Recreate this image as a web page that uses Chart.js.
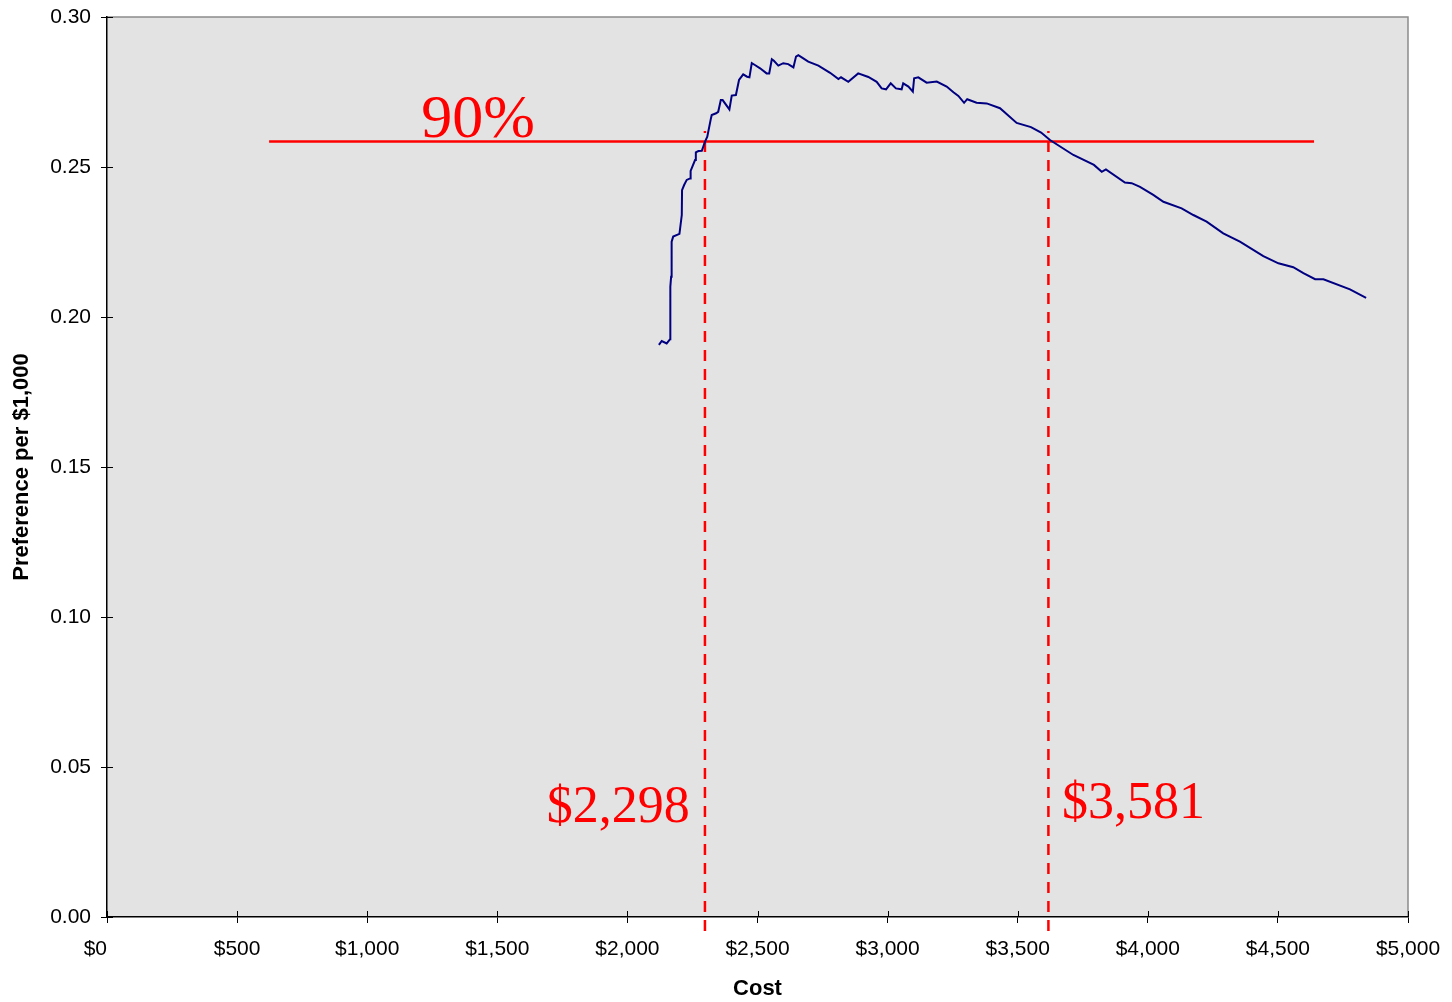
<!DOCTYPE html>
<html>
<head>
<meta charset="utf-8">
<script src="https://cdn.jsdelivr.net/npm/chart.js@4/dist/chart.umd.min.js"></script>
<style>
  body { margin: 0; background: #fff; }
  canvas { display: block; }
</style>
</head>
<body>
<canvas id="prefChart" width="1452" height="1002"></canvas>
<script>
// Cost ($) and preference per $1,000
const costValues = [
  2121, 2132, 2151, 2164, 2165, 2168, 2170, 2176, 2200, 2209, 2210, 2218, 2228, 2241, 2243,
  2260, 2263, 2273, 2286, 2298, 2307, 2321, 2324, 2341, 2349, 2359, 2366, 2392, 2401, 2417,
  2429, 2445, 2460, 2469, 2478, 2490, 2510, 2535, 2545, 2555, 2563, 2580, 2599, 2618, 2638,
  2648, 2657, 2676, 2695, 2734, 2779, 2811, 2821, 2849, 2887, 2926, 2958, 2977, 2994, 3012,
  3032, 3054, 3060, 3080, 3097, 3102, 3118, 3150, 3189, 3227, 3253, 3272, 3294, 3306, 3342,
  3381, 3432, 3496, 3551, 3590, 3624, 3714, 3793, 3823, 3839, 3912, 3938, 3970, 4021, 4060,
  4130, 4175, 4226, 4290, 4354, 4444, 4502, 4559, 4598, 4643, 4675, 4777, 4839
];
const prefValues = [
  0.1907, 0.1920, 0.1912, 0.1926, 0.2101, 0.2134, 0.2251, 0.2268, 0.2277, 0.2340, 0.2423, 0.2440, 0.2457, 0.2462, 0.2487,
  0.2523, 0.2549, 0.2553, 0.2554, 0.2584, 0.2601, 0.2662, 0.2673, 0.2679, 0.2684, 0.2723, 0.2723, 0.2692, 0.2738, 0.2740,
  0.2790, 0.2809, 0.2801, 0.2799, 0.2846, 0.2840, 0.2829, 0.2812, 0.2812, 0.2859, 0.2854, 0.2838, 0.2846, 0.2843, 0.2832,
  0.2868, 0.2873, 0.2862, 0.2851, 0.2838, 0.2814, 0.2793, 0.2799, 0.2784, 0.2812, 0.2800, 0.2784, 0.2762, 0.2759, 0.2779,
  0.2762, 0.2759, 0.2779, 0.2768, 0.2751, 0.2796, 0.2799, 0.2781, 0.2785, 0.2768, 0.2749, 0.2737, 0.2714, 0.2726, 0.2714,
  0.2712, 0.2696, 0.2647, 0.2633, 0.2615, 0.2590, 0.2540, 0.2507, 0.2484, 0.2492, 0.2448, 0.2446, 0.2434, 0.2407, 0.2384,
  0.2362, 0.2340, 0.2318, 0.2279, 0.2251, 0.2203, 0.2179, 0.2166, 0.2146, 0.2126, 0.2126, 0.2092, 0.2064
];

// 90% level line
const levelX = [623, 4639];
const levelY = 0.2585;
const levelLabel = '90%';

// cut-off cost lines (top and bottom end of the dashed lines)
const cutoffX = [2298, 3618];
const cutoffYRange = [0.2620, -0.0053];
const cutoffLabels = ['$2,298', '$3,581'];

// axis ticks
const xTicks = { min: 0, max: 5000, step: 500 };
const yTicks = { min: 0, max: 0.30, step: 0.05 };

const curve = costValues.map((c, i) => ({ x: c, y: prefValues[i] }));

const datasets = [{
  data: curve,
  borderColor: '#000080',
  borderWidth: 2,
  pointRadius: 0,
  tension: 0
}, {
  data: levelX.map(x => ({ x: x, y: levelY })),
  borderColor: '#ff0000',
  borderWidth: 2.5,
  pointRadius: 0
}];

cutoffX.forEach(x => {
  datasets.push({
    data: cutoffYRange.map(y => ({ x: x, y: y })),
    borderColor: '#ff0000',
    borderWidth: 2.5,
    borderDash: [11, 8],
    borderDashOffset: 9,
    pointRadius: 0,
    clip: false
  });
});

// plot background, gray frame, inner tick marks
const plotFrame = {
  id: 'plotFrame',
  beforeDraw(chart) {
    const { ctx, chartArea: a } = chart;
    ctx.save();
    ctx.fillStyle = '#e3e3e3';
    ctx.fillRect(a.left, a.top, a.right - a.left, a.bottom - a.top);
    ctx.strokeStyle = '#8c8c8c';
    ctx.lineWidth = 1.5;
    ctx.beginPath();
    ctx.moveTo(a.left, a.top);
    ctx.lineTo(a.right, a.top);
    ctx.lineTo(a.right, a.bottom);
    ctx.stroke();
    ctx.restore();
  },
  afterDraw(chart) {
    const { ctx, chartArea: a, scales } = chart;
    ctx.save();
    ctx.strokeStyle = '#000';
    ctx.lineWidth = 1;
    ctx.beginPath();
    scales.x.ticks.forEach(t => {
      const px = Math.round(scales.x.getPixelForValue(t.value)) + 0.5;
      ctx.moveTo(px, a.bottom);
      ctx.lineTo(px, a.bottom - 6);
    });
    scales.y.ticks.forEach(t => {
      const py = Math.round(scales.y.getPixelForValue(t.value)) + 0.5;
      ctx.moveTo(a.left, py);
      ctx.lineTo(a.left + 6, py);
    });
    ctx.stroke();
    ctx.restore();
  }
};

// red text notes
const notes = {
  id: 'notes',
  afterDatasetsDraw(chart) {
    const { ctx, scales: { x, y } } = chart;
    ctx.save();
    ctx.fillStyle = '#ff0000';
    ctx.textBaseline = 'alphabetic';

    ctx.font = '62px "Liberation Serif", "Times New Roman", serif';
    ctx.textAlign = 'left';
    ctx.fillText(levelLabel, x.getPixelForValue(1208), y.getPixelForValue(0.2600));

    ctx.font = '52px "Liberation Serif", "Times New Roman", serif';
    ctx.textAlign = 'right';
    ctx.fillText(cutoffLabels[0], x.getPixelForValue(cutoffX[0] - 58), y.getPixelForValue(0.0317));
    ctx.textAlign = 'left';
    ctx.fillText(cutoffLabels[1], x.getPixelForValue(cutoffX[1] + 52), y.getPixelForValue(0.0330));
    ctx.restore();
  }
};

const tickFont = { family: '"Liberation Sans", Arial, sans-serif', size: 21 };
const titleFont = { family: '"Liberation Sans", Arial, sans-serif', size: 22, weight: 'bold' };

new Chart(document.getElementById('prefChart'), {
  type: 'line',
  data: { datasets: datasets },
  options: {
    responsive: false,
    animation: false,
    devicePixelRatio: 1,
    layout: { padding: { top: 17, right: 44, left: 0, bottom: 0 } },
    plugins: {
      legend: { display: false },
      tooltip: { enabled: false }
    },
    scales: {
      x: {
        type: 'linear',
        min: xTicks.min,
        max: xTicks.max,
        afterFit(scale) {
          scale.height = 85;
          scale.paddingLeft = 0;
          scale.paddingRight = 0;
        },
        ticks: {
          stepSize: xTicks.step,
          color: '#000',
          font: tickFont,
          padding: 14,
          maxRotation: 0,
          // the first label sits left of its tick, as in the original
          callback: v => v === 0 ? '$0    ' : '$' + v.toLocaleString('en-US')
        },
        grid: { drawOnChartArea: false, tickLength: 6, color: '#000' },
        border: { color: '#000', width: 1.5 },
        title: {
          display: true,
          text: 'Cost',
          color: '#000',
          font: titleFont,
          padding: { top: 0, bottom: 0 }
        }
      },
      y: {
        min: yTicks.min,
        max: yTicks.max,
        afterFit(scale) {
          scale.width = 107;
          scale.paddingTop = 0;
          scale.paddingBottom = 0;
        },
        ticks: {
          stepSize: yTicks.step,
          color: '#000',
          font: tickFont,
          padding: 10,
          callback: v => v.toFixed(2)
        },
        grid: { drawOnChartArea: false, tickLength: 6, color: '#000' },
        border: { color: '#000', width: 1.5 },
        title: {
          display: true,
          text: 'Preference per $1,000',
          color: '#000',
          font: titleFont,
          padding: { top: 9, bottom: 0 }
        }
      }
    }
  },
  plugins: [plotFrame, notes]
});
</script>
</body>
</html>
